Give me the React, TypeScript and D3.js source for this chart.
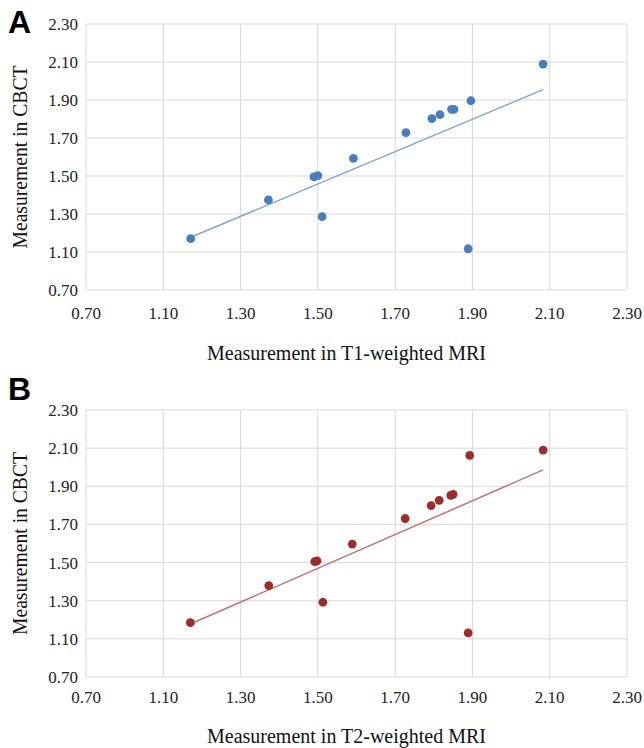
import React from 'react'
import * as d3 from 'd3'

// gridline positions and the labels printed on them (the bottom/left one reads 0.70 in the source)
const tickValues = [0.9, 1.1, 1.3, 1.5, 1.7, 1.9, 2.1, 2.3]
const tickLabels = ['0.70', '1.10', '1.30', '1.50', '1.70', '1.90', '2.10', '2.30']

// panel A: T1-weighted MRI vs CBCT
const t1Mri = [1.171, 1.372, 1.49, 1.5, 1.511, 1.592, 1.728, 1.795, 1.816, 1.846, 1.852, 1.896, 1.889, 2.083]
const t1Cbct = [1.17, 1.374, 1.495, 1.502, 1.286, 1.593, 1.728, 1.802, 1.823, 1.851, 1.851, 1.896, 1.117, 2.089]

// panel B: T2-weighted MRI vs CBCT
const t2Mri = [1.17, 1.373, 1.492, 1.498, 1.513, 1.589, 1.726, 1.793, 1.814, 1.844, 1.85, 1.893, 1.889, 2.083]
const t2Cbct = [1.185, 1.379, 1.505, 1.509, 1.292, 1.597, 1.731, 1.799, 1.826, 1.852, 1.858, 2.062, 1.131, 2.09]

const W = 644
const H = 748
const left = 86
const right = 627
const serif = '"Liberation Serif", "Times New Roman", serif'

function fit(xs: number[], ys: number[]) {
  const mx = d3.mean(xs)!
  const my = d3.mean(ys)!
  let sxy = 0
  let sxx = 0
  xs.forEach((x, i) => {
    sxy += (x - mx) * (ys[i] - my)
    sxx += (x - mx) * (x - mx)
  })
  const slope = sxy / sxx
  return { slope, intercept: my - slope * mx }
}

function Panel({ letter, xs, ys, top, bottom, color, lineColor, xTitle, tickY, titleY, letterY }) {
  const x = d3.scaleLinear().domain([0.9, 2.3]).range([left, right])
  const y = d3.scaleLinear().domain([0.9, 2.3]).range([bottom, top])
  const { slope, intercept } = fit(xs, ys)
  const [x0, x1] = d3.extent(xs) as [number, number]
  const line = d3.line<number>().x(d => x(d)).y(d => y(slope * d + intercept))
  const midY = (top + bottom) / 2

  return (
    <g>
      <text x={8} y={letterY} fontFamily='"Liberation Sans", Arial, sans-serif' fontWeight="bold" fontSize={32}>
        {letter}
      </text>
      {tickValues.map((t, i) => (
        <g key={'g' + i}>
          <line x1={x(t)} x2={x(t)} y1={top} y2={bottom} stroke="#d9d9d9" strokeWidth={1} />
          <line x1={left} x2={right} y1={y(t)} y2={y(t)} stroke="#d9d9d9" strokeWidth={1} />
          <text x={78} y={y(t)} dy="0.35em" textAnchor="end" fontFamily={serif} fontSize={17} fill="#222">
            {tickLabels[i]}
          </text>
          <text x={x(t)} y={tickY} textAnchor="middle" fontFamily={serif} fontSize={17} fill="#222">
            {tickLabels[i]}
          </text>
        </g>
      ))}
      <path d={line([x0, x1])!} stroke={lineColor} strokeWidth={1.5} fill="none" />
      {xs.map((v, i) => (
        <circle key={'p' + i} cx={x(v)} cy={y(ys[i])} r={4.4} fill={color} />
      ))}
      <text
        transform={`translate(27,${midY}) rotate(-90)`}
        textAnchor="middle"
        fontFamily={serif}
        fontSize={20}
        textLength={183}
        lengthAdjust="spacingAndGlyphs"
        fill="#111"
      >
        Measurement in CBCT
      </text>
      <text x={(left + right) / 2 - 10} y={titleY} textAnchor="middle" fontFamily={serif} fontSize={20} fill="#111">
        {xTitle}
      </text>
    </g>
  )
}

export default function App() {
  return (
    <svg width={W} height={H} style={{ position: 'absolute', left: 0, top: 0, background: '#fff' }}>
      <rect width={W} height={H} fill="#fff" />
      <Panel
        letter="A"
        xs={t1Mri}
        ys={t1Cbct}
        top={24}
        bottom={290}
        color="#4a7ebb"
        lineColor="#7fa6d6"
        xTitle="Measurement in T1-weighted MRI"
        tickY={319}
        titleY={360}
        letterY={33}
      />
      <Panel
        letter="B"
        xs={t2Mri}
        ys={t2Cbct}
        top={410}
        bottom={677}
        color="#9b2d2a"
        lineColor="#c27473"
        xTitle="Measurement in T2-weighted MRI"
        tickY={703}
        titleY={743}
        letterY={400}
      />
    </svg>
  )
}
